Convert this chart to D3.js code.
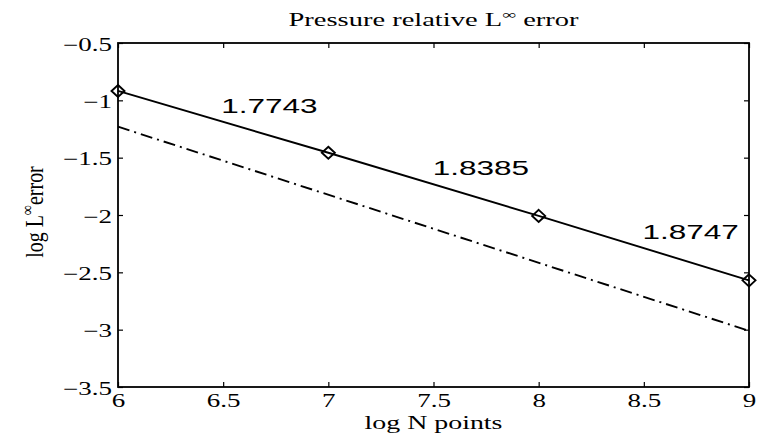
<!DOCTYPE html>
<html><head><meta charset="utf-8">
<script src="https://cdn.jsdelivr.net/npm/d3@7"></script>
<style>body{margin:0;background:#fff}svg{display:block}</style>
</head><body>
<svg id="c" width="760" height="437"></svg>
<script>
const xTicks = [6, 6.5, 7, 7.5, 8, 8.5, 9];
const yTicks = [-0.5, -1, -1.5, -2, -2.5, -3, -3.5];
const logN = [6, 7, 8, 9];
const logErr = [-0.918, -1.457, -2.008, -2.57];
const refX = [6, 9];
const refY = [-1.23, -3.01];
const rateLabels = ["1.7743", "1.8385", "1.8747"];
const rateX = [6.72, 7.725, 8.722];
const rateY = [-1.11, -1.651, -2.207];

const svg = d3.select("#c");
const L = 118, R = 749, T = 43, B = 387;
const x = d3.scaleLinear().domain([6, 9]).range([L, R]);
const y = d3.scaleLinear().domain([-3.5, -0.5]).range([B, T]);
const serif = "'Liberation Serif','Times New Roman',serif";
const sans = "'Liberation Sans',Arial,sans-serif";
const fmt = d => d3.format("")(d).replace("-", "\u2212");

function styleAxis(g) {
  g.select(".domain").remove();
  g.selectAll(".tick line").attr("stroke", "#000").attr("stroke-width", 1.2);
}
// bottom
const gb = svg.append("g").attr("transform", `translate(0,${B})`)
  .call(d3.axisBottom(x).tickValues(xTicks).tickSizeInner(-5).tickSizeOuter(0).tickFormat(fmt));
styleAxis(gb);
gb.selectAll(".tick text").attr("y", null).attr("dy", null)
  .attr("transform", "translate(0,20) scale(1.5,1)")
  .attr("font-family", serif).attr("font-size", 18).attr("fill", "#000");
// left
const gl = svg.append("g").attr("transform", `translate(${L},0)`)
  .call(d3.axisLeft(y).tickValues(yTicks).tickSizeInner(-5).tickSizeOuter(0).tickFormat(fmt));
styleAxis(gl);
gl.selectAll(".tick text").attr("x", null).attr("dy", null)
  .attr("transform", "translate(-6,7) scale(1.5,1)")
  .attr("font-family", serif).attr("font-size", 18).attr("fill", "#000");
// top and right mirrored ticks
const gt = svg.append("g").attr("transform", `translate(0,${T})`)
  .call(d3.axisTop(x).tickValues(xTicks).tickSizeInner(-5).tickSizeOuter(0).tickFormat(""));
styleAxis(gt);
const gr = svg.append("g").attr("transform", `translate(${R},0)`)
  .call(d3.axisRight(y).tickValues(yTicks).tickSizeInner(-5).tickSizeOuter(0).tickFormat(""));
styleAxis(gr);

// box
svg.append("rect").attr("x", L).attr("y", T).attr("width", R - L).attr("height", B - T)
  .attr("fill", "none").attr("stroke", "#000").attr("stroke-width", 1.8);

// reference dash-dot line
svg.append("path").datum(refX.map((d, i) => [d, refY[i]]))
  .attr("d", d3.line().x(d => x(d[0])).y(d => y(d[1])))
  .attr("fill", "none").attr("stroke", "#000").attr("stroke-width", 1.9)
  .attr("stroke-dasharray", "12,5,2,5");

// error line
const pts = logN.map((d, i) => [d, logErr[i]]);
svg.append("path").datum(pts)
  .attr("d", d3.line().x(d => x(d[0])).y(d => y(d[1])))
  .attr("fill", "none").attr("stroke", "#000").attr("stroke-width", 1.9);
svg.selectAll("path.mk").data(pts).enter().append("path").attr("class", "mk")
  .attr("d", d => { const cx = x(d[0]), cy = y(d[1]); return `M${cx},${cy-6}L${cx+6.5},${cy}L${cx},${cy+6}L${cx-6.5},${cy}Z`; })
  .attr("fill", "none").attr("stroke", "#000").attr("stroke-width", 1.9);

// rate labels
svg.selectAll("text.rate").data(rateLabels).enter().append("text").attr("class", "rate")
  .attr("transform", (d, i) => `translate(${x(rateX[i])},${y(rateY[i])}) scale(1.5,1)`)
  .attr("text-anchor", "middle").attr("font-family", sans).attr("font-size", 21).attr("fill", "#000")
  .text(d => d);

// title
const tt = svg.append("text").attr("transform", `translate(${(L + R) / 2},26) scale(1.5,1)`)
  .attr("text-anchor", "middle").attr("font-family", serif).attr("font-size", 19).attr("fill", "#000");
tt.append("tspan").text("Pressure relative L");
tt.append("tspan").attr("font-size", 13).attr("dy", -7).text("\u221E");
tt.append("tspan").attr("dy", 7).text(" error");

// x label
svg.append("text").attr("transform", `translate(${(L + R) / 2},429) scale(1.55,1)`)
  .attr("text-anchor", "middle").attr("font-family", serif).attr("font-size", 18).attr("fill", "#000")
  .text("log N points");

// y label
const yl = svg.append("text").attr("transform", `translate(43,212) rotate(-90) scale(1,1.25)`)
  .attr("text-anchor", "middle").attr("font-family", serif).attr("font-size", 20).attr("fill", "#000");
yl.append("tspan").text("log L");
yl.append("tspan").attr("font-size", 14).attr("dy", -8).text("\u221E");
yl.append("tspan").attr("dy", 8).text("error");
</script>
</body></html>
